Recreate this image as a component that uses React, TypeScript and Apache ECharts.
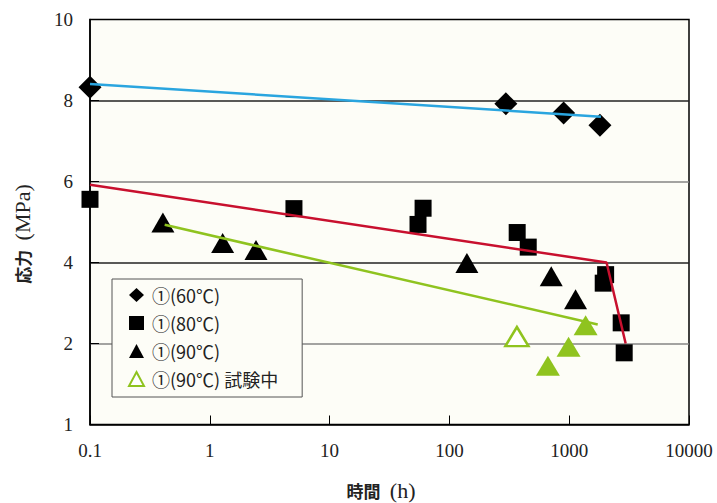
import React, { useEffect, useRef } from "react";
import * as echarts from "echarts";

// 時間 (h) / 応力 (MPa)
const hours60 = [0.1, 296, 898, 1805];
const stress60 = [8.33, 7.92, 7.69, 7.39];

const hours80 = [0.1, 5.04, 54.7, 60.3, 368, 455, 1923, 2014, 2716, 2878];
const stress80 = [5.56, 5.33, 4.94, 5.34, 4.74, 4.38, 3.49, 3.7, 2.51, 1.77];

const hours90 = [0.406, 1.28, 2.43, 140, 708, 1130];
const stress90 = [4.99, 4.48, 4.31, 3.99, 3.66, 3.09];

const hours90g = [664, 988, 1371];
const stress90g = [1.45, 1.92, 2.45];

const hours90open = [366];
const stress90open = [2.17];

const trend60Hours = [0.1, 1840];
const trend60Stress = [8.41, 7.6];
const trend80Hours = [0.1, 2050, 2960];
const trend80Stress = [5.92, 4.0, 2.0];
const trend90Hours = [0.42, 1730];
const trend90Stress = [4.93, 2.47];

const xTicks = ["0.1", "1", "10", "100", "1000", "10000"];
const yTickLabels = ["1", "2", "4", "6", "8", "10"];

const legendNames = ["①(60℃)", "①(80℃)", "①(90℃)", "①(90℃) 試験中"];

const zip = (xs: number[], ys: number[]) => xs.map((x, i) => [x, ys[i]]);

const GREEN = "#8fc31f";
const BLUE = "#2aa5df";
const RED = "#c8102e";
const BG = "#fdfdf7";

export default function App() {
  const ref = useRef<HTMLDivElement>(null);
  useEffect(() => {
    if (!ref.current) return;
    const chart = echarts.init(ref.current, undefined, { renderer: "svg" });
    const serif = "Liberation Serif";
    const sans = "Noto Sans CJK JP";
    chart.setOption({
      animation: false,
      grid: {
        left: 90,
        right: 28,
        top: 19.5,
        bottom: 78.5,
        show: true,
        backgroundColor: BG,
        borderColor: "#000",
        borderWidth: 1.5,
      },
      xAxis: {
        type: "log",
        logBase: 10,
        min: 0.1,
        max: 10000,
        axisLine: { show: true, lineStyle: { color: "#000", width: 1.5 } },
        axisTick: { show: true, inside: true, length: 9, lineStyle: { color: "#000", width: 1 } },
        splitLine: { show: false },
        minorTick: { show: false },
        axisLabel: {
          margin: 16,
          fontFamily: serif,
          fontSize: 19,
          color: "#222",
          formatter: (v: number) => {
            const idx = Math.round(Math.log10(v)) + 1;
            return xTicks[idx] ?? String(v);
          },
        },
      },
      yAxis: {
        type: "value",
        min: 0,
        max: 10,
        interval: 2,
        axisLine: { show: true, lineStyle: { color: "#000", width: 1.5 } },
        axisTick: { show: true, inside: true, length: 9, lineStyle: { color: "#000", width: 1 } },
        splitLine: {
          show: true,
          lineStyle: {
            color: ["rgba(0,0,0,0)", "#858585", "#222", "#858585", "#222", "rgba(0,0,0,0)"],
            width: 1.6,
          },
        },
        axisLabel: {
          margin: 17,
          fontFamily: serif,
          fontSize: 19,
          color: "#222",
          formatter: (v: number) => yTickLabels[Math.round(v / 2)] ?? String(v),
        },
      },
      legend: {
        orient: "vertical",
        left: 112,
        top: 279,
        padding: [6, 24, 8, 16],
        itemGap: 8,
        itemWidth: 15,
        itemHeight: 14,
        backgroundColor: BG,
        borderColor: "#555",
        borderWidth: 1,
        textStyle: { fontFamily: sans, fontSize: 18, color: "#222", lineHeight: 20, padding: [0, 0, 0, 3] },
        data: [
          { name: legendNames[0], icon: "diamond", itemStyle: { color: "#000", opacity: 1 } },
          { name: legendNames[1], icon: "rect", itemStyle: { color: "#000", opacity: 1 } },
          { name: legendNames[2], icon: "triangle", itemStyle: { color: "#000", opacity: 1 } },
          {
            name: legendNames[3],
            icon: "triangle",
            itemStyle: { color: "#fff", borderColor: GREEN, borderWidth: 2, opacity: 1 },
          },
        ],
      },
      series: [
        {
          name: legendNames[0],
          type: "scatter",
          symbol: "diamond",
          symbolSize: 23,
          clip: false,
          itemStyle: { color: "#000", opacity: 1 },
          data: zip(hours60, stress60),
          z: 3,
        },
        {
          name: legendNames[1],
          type: "scatter",
          symbol: "rect",
          symbolSize: 17,
          clip: false,
          itemStyle: { color: "#000", opacity: 1 },
          data: zip(hours80, stress80),
          z: 3,
        },
        {
          name: legendNames[2],
          type: "scatter",
          symbol: "triangle",
          symbolSize: [23, 20],
          clip: false,
          itemStyle: { color: "#000", opacity: 1 },
          data: zip(hours90, stress90),
          z: 3,
        },
        {
          name: "①(90℃) green",
          type: "scatter",
          symbol: "triangle",
          symbolSize: [24, 20],
          clip: false,
          itemStyle: { color: GREEN, opacity: 1 },
          data: zip(hours90g, stress90g),
          z: 3,
        },
        {
          name: legendNames[3],
          type: "scatter",
          symbol: "triangle",
          symbolSize: [23, 19],
          clip: false,
          itemStyle: { color: "#fff", borderColor: GREEN, borderWidth: 2.5, opacity: 1 },
          data: zip(hours90open, stress90open),
          z: 3,
        },
        {
          name: "trend60",
          type: "line",
          showSymbol: false,
          symbol: "none",
          clip: false,
          lineStyle: { color: BLUE, width: 2.5 },
          data: zip(trend60Hours, trend60Stress),
          z: 4,
        },
        {
          name: "trend80",
          type: "line",
          showSymbol: false,
          symbol: "none",
          clip: false,
          lineStyle: { color: RED, width: 2.5 },
          data: zip(trend80Hours, trend80Stress),
          z: 4,
        },
        {
          name: "trend90",
          type: "line",
          showSymbol: false,
          symbol: "none",
          clip: false,
          lineStyle: { color: GREEN, width: 2.5 },
          data: zip(trend90Hours, trend90Stress),
          z: 4,
        },
      ],
      graphic: [
        {
          type: "text",
          x: 22,
          y: 234,
          rotation: Math.PI / 2,
          style: {
            text: "{a|応力} {b|(MPa)}",
            align: "center",
            verticalAlign: "middle",
            rich: {
              a: { fontFamily: sans, fontWeight: "bold", fontSize: 17, fill: "#222" },
              b: { fontFamily: serif, fontSize: 22, fill: "#222", padding: [0, 0, 0, 6] },
            },
          },
        },
        {
          type: "text",
          x: 381,
          y: 490,
          style: {
            text: "{a|時間} {b|(h)}",
            align: "center",
            verticalAlign: "middle",
            rich: {
              a: { fontFamily: sans, fontWeight: "bold", fontSize: 17, fill: "#222" },
              b: { fontFamily: serif, fontSize: 22, fill: "#222", padding: [0, 0, 0, 6] },
            },
          },
        },
      ],
    });
    return () => chart.dispose();
  }, []);
  return <div ref={ref} style={{ width: 717, height: 503, position: "absolute", left: 0, top: 0 }} />;
}
